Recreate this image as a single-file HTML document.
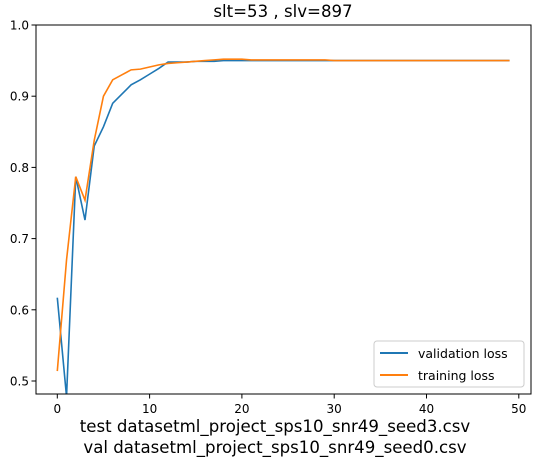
<!DOCTYPE html>
<html><head><meta charset="utf-8"><style>
body{margin:0;background:#fff;}
text{font-family:"DejaVu Sans","Liberation Sans",sans-serif;}
</style></head><body>
<svg id="chart" width="537" height="459" xmlns="http://www.w3.org/2000/svg">
<text x="283" y="17" font-size="16.6" text-anchor="middle">slt=53 , slv=897</text>
<g id="grid"></g>
<g id="lines"></g>
<rect x="36" y="25" width="495" height="369" fill="none" stroke="#000" stroke-width="1"/>
<g>
<rect x="374" y="341" width="150" height="46" rx="3" fill="#fff" fill-opacity="0.85" stroke="#ccc"/>
<line x1="380" y1="353" x2="408" y2="353" stroke="#1f77b4" stroke-width="2"/>
<text x="418" y="358" font-size="12.5">validation loss</text>
<line x1="380" y1="375" x2="408" y2="375" stroke="#ff7f0e" stroke-width="2"/>
<text x="418" y="380" font-size="12.5">training loss</text>
</g>
<text x="275" y="432" font-size="16.6" text-anchor="middle">test datasetml_project_sps10_snr49_seed3.csv</text>
<text x="275" y="453" font-size="16.6" text-anchor="middle">val datasetml_project_sps10_snr49_seed0.csv</text>
</svg>
<script>
const validation = [0.617,0.478,0.787,0.726,0.830,0.857,0.890,0.903,0.916,0.923,0.931,0.939,0.948,0.948,0.948,0.949,0.949,0.949,0.950,0.950,0.950,0.950,0.950,0.950,0.950,0.950,0.950,0.950,0.950,0.950,0.950,0.950,0.950,0.950,0.950,0.950,0.950,0.950,0.950,0.950,0.950,0.950,0.950,0.950,0.950,0.950,0.950,0.950,0.950,0.950];
const training = [0.514,0.670,0.787,0.754,0.838,0.900,0.923,0.930,0.937,0.938,0.941,0.944,0.946,0.947,0.948,0.949,0.950,0.951,0.952,0.952,0.952,0.951,0.951,0.951,0.951,0.951,0.951,0.951,0.951,0.951,0.950,0.950,0.950,0.950,0.950,0.950,0.950,0.950,0.950,0.950,0.950,0.950,0.950,0.950,0.950,0.950,0.950,0.950,0.950,0.950];
const xTicks = [0,10,20,30,40,50];
const yTicks = [0.5,0.6,0.7,0.8,0.9,1.0];
const NS='http://www.w3.org/2000/svg';
const X = v => 57.3 + v*9.23;
const Y = v => 25 + (1.0 - v)*712;
const grid=document.getElementById('grid'), lines=document.getElementById('lines');
function mk(t,a,p){const e=document.createElementNS(NS,t);for(const k in a)e.setAttribute(k,a[k]);p.appendChild(e);return e;}
xTicks.forEach(t=>{
  const l=mk('line',{x1:X(t),x2:X(t),y1:394,y2:398.5,stroke:'#000'},grid);
  
  
  const tx=mk('text',{x:X(t),y:413,'font-size':12,'text-anchor':'middle'},grid);tx.textContent=t;
  
  
});
yTicks.forEach(t=>{
  const l=mk('line',{x1:31.5,x2:36,y1:Y(t),y2:Y(t),stroke:'#000'},grid);
  
  
  const tx=mk('text',{x:29,y:Y(t)+4.5,'font-size':12,'text-anchor':'end'},grid);tx.textContent=t.toFixed(1);
  
  
});
const clip=mk('clipPath',{id:'pc'},lines);mk('rect',{x:36,y:25,width:495,height:369},clip);
function series(d,c,name){
  const p=mk('polyline',{points:d.map((v,i)=>X(i)+','+Y(v)).join(' '),fill:'none',stroke:c,'stroke-width':1.6,'clip-path':'url(#pc)'},lines);
  
  
}
series(validation,'#1f77b4','validation-loss-line');
series(training,'#ff7f0e','training-loss-line');
</script>
</body></html>
